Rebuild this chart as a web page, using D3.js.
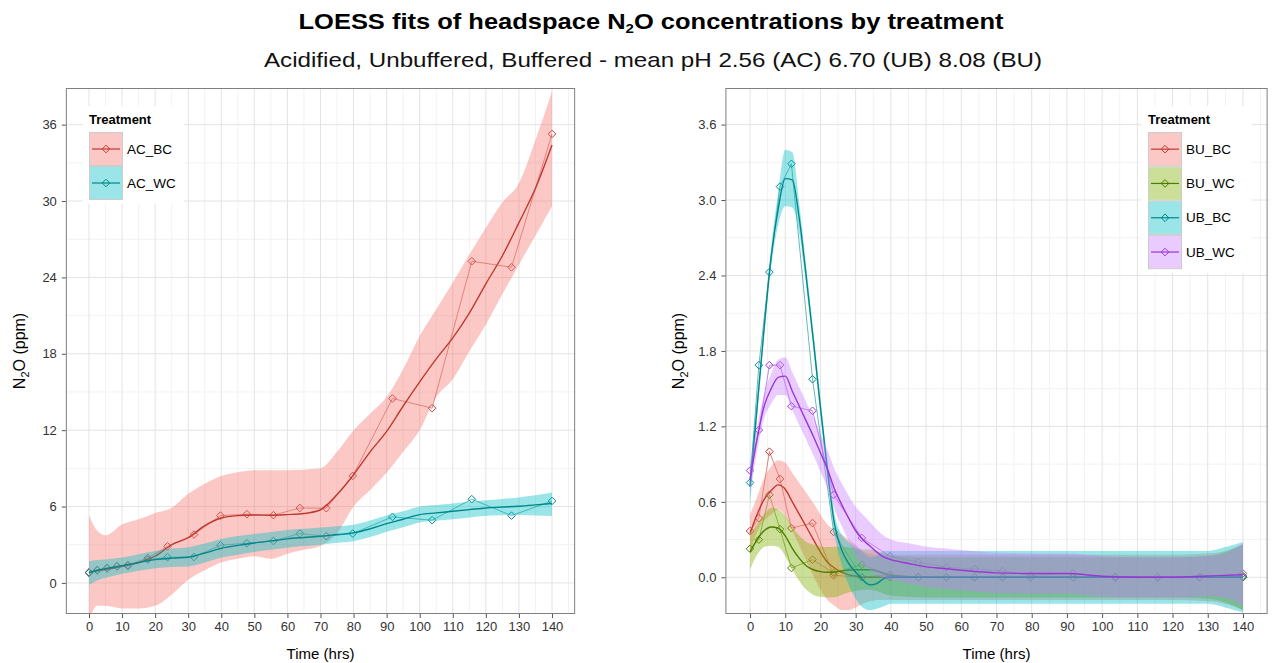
<!DOCTYPE html>
<html><head><meta charset="utf-8">
<script src="https://cdn.jsdelivr.net/npm/d3@7"></script>
<style>body{margin:0;background:#fff}svg{display:block;font-family:"Liberation Sans",Arial,sans-serif}</style>
</head><body><svg id="c" width="1272" height="663"></svg>
<script>
// ---------- data ----------
const sampleTimes = [0, 2.5, 5.5, 8.5, 11.75, 17.75, 23.75, 31.75, 39.75, 47.75, 55.75, 63.75, 71.75, 79.75, 91.75, 103.75, 115.75, 127.75, 140];

// Left panel (acidified)
const leftNames = ["AC_BC", "AC_WC"];
const AC_BC_obs = [0.84, 1.0, 1.15, 1.3, 1.4, 1.95, 2.88, 3.8, 5.29, 5.4, 5.32, 5.89, 5.87, 8.41, 14.49, 13.73, 25.27, 24.8, 35.27];
const AC_WC_obs = [0.79, 1.0, 1.18, 1.31, 1.34, 1.83, 2.02, 2.04, 2.96, 3.12, 3.3, 3.88, 3.67, 3.88, 5.19, 4.93, 6.58, 5.29, 6.44];
const leftFitTimes = [0, 2.5, 5, 10, 15, 20, 25, 30, 35, 40, 45, 50, 55, 60, 65, 70, 75, 80, 85, 90, 95, 100, 105, 110, 115, 120, 125, 130, 135, 140];
const AC_BC_fit = [0.84, 0.95, 1.05, 1.31, 1.6, 2.1, 3.0, 3.55, 4.5, 5.1, 5.29, 5.34, 5.32, 5.37, 5.45, 5.75, 6.94, 8.5, 10.3, 11.9, 13.9, 15.8, 17.6, 19.25, 21.2, 23.5, 25.7, 28.3, 31.0, 34.4];
const AC_BC_hi  = [5.3, 4.1, 3.75, 4.6, 5.0, 5.5, 5.9, 7.0, 7.8, 8.4, 8.7, 8.86, 8.86, 8.86, 8.9, 9.0, 10.3, 12.0, 13.3, 14.6, 16.8, 19.4, 21.5, 23.6, 25.8, 27.9, 29.9, 31.4, 34.8, 38.6];
const AC_BC_lo  = [-3.0, -1.8, -1.8, -2.0, -2.0, -1.8, -0.9, 0.26, 1.0, 1.6, 1.9, 2.1, 1.9, 2.3, 2.6, 2.9, 3.9, 6.0, 7.3, 8.65, 10.3, 12.0, 14.6, 16.0, 18.2, 20.3, 22.7, 25.0, 27.3, 29.6];
const AC_WC_fit = [0.79, 1.0, 1.12, 1.36, 1.6, 1.83, 1.95, 2.02, 2.35, 2.72, 2.95, 3.14, 3.3, 3.46, 3.57, 3.67, 3.8, 3.93, 4.25, 4.66, 5.0, 5.37, 5.5, 5.63, 5.76, 5.89, 5.96, 6.03, 6.13, 6.24];
const AC_WC_hi  = [1.7, 1.8, 1.85, 2.0, 2.25, 2.5, 2.7, 2.8, 3.1, 3.45, 3.68, 3.85, 4.0, 4.15, 4.25, 4.35, 4.45, 4.58, 4.9, 5.3, 5.63, 6.0, 6.12, 6.25, 6.38, 6.5, 6.6, 6.72, 6.88, 7.1];
const AC_WC_lo  = [-0.15, 0.2, 0.4, 0.72, 0.95, 1.16, 1.25, 1.3, 1.6, 2.0, 2.22, 2.43, 2.6, 2.77, 2.9, 3.0, 3.15, 3.28, 3.6, 4.02, 4.37, 4.75, 4.88, 5.0, 5.14, 5.28, 5.32, 5.34, 5.3, 5.25];

// Right panel (unbuffered / buffered)
const rightNames = ["BU_BC", "BU_WC", "UB_BC", "UB_WC"];
const BU_BC_obs = [0.368, 0.47, 0.999, 0.782, 0.391, 0.431, 0.016, 0.0, 0.02, 0.0, 0.0, 0.0, 0.0, 0.0, 0.0, 0.0, 0.0, 0.0, 0.0];
const BU_WC_obs = [0.227, 0.299, 0.656, 0.383, 0.074, 0.14, 0.035, 0.1, 0.02, 0.0, 0.0, 0.0, 0.0, 0.0, 0.0, 0.0, 0.0, 0.0, 0.01];
const UB_BC_obs = [0.753, 1.687, 2.427, 3.107, 3.288, 1.575, 0.36, 0.0, 0.0, 0.0, 0.0, 0.0, 0.0, 0.0, 0.0, 0.0, 0.0, 0.0, 0.0];
const UB_WC_obs = [0.849, 1.171, 1.687, 1.687, 1.361, 1.324, 0.656, 0.313, 0.167, 0.12, 0.08, 0.066, 0.05, 0.016, 0.03, 0.0, 0.0, 0.0, 0.03];
const rightFitTimes = [0, 2, 4, 6, 8, 10, 12, 14, 16, 18, 20, 22, 24, 26, 28, 30, 32, 34, 36, 38, 40, 45, 50, 55, 60, 70, 80, 90, 100, 110, 120, 130, 135, 140];
const BU_BC_fit = [0.35, 0.5, 0.62, 0.69, 0.735, 0.7, 0.6, 0.5, 0.4, 0.3, 0.2, 0.12, 0.074, 0.04, 0.02, 0.01, 0.0, 0.0, 0.0, 0.0, 0.0, 0.0, 0.0, 0.0, 0.0, 0.0, 0.0, 0.0, 0.0, 0.0, 0.0, 0.0, 0.0, 0.0];
const BU_BC_hi  = [0.5, 0.64, 0.79, 0.88, 0.93, 0.91, 0.83, 0.75, 0.67, 0.59, 0.5, 0.42, 0.374, 0.34, 0.3, 0.26, 0.21, 0.19, 0.18, 0.18, 0.18, 0.18, 0.18, 0.18, 0.18, 0.18, 0.18, 0.18, 0.18, 0.18, 0.18, 0.19, 0.21, 0.26];
const BU_BC_lo  = [0.2, 0.36, 0.45, 0.5, 0.54, 0.49, 0.37, 0.25, 0.13, 0.01, -0.1, -0.18, -0.226, -0.26, -0.26, -0.24, -0.21, -0.19, -0.18, -0.18, -0.18, -0.18, -0.18, -0.18, -0.18, -0.18, -0.18, -0.18, -0.18, -0.18, -0.18, -0.19, -0.21, -0.26];
const BU_WC_fit = [0.2, 0.3, 0.37, 0.4, 0.39, 0.33, 0.23, 0.15, 0.09, 0.06, 0.045, 0.04, 0.042, 0.05, 0.058, 0.06, 0.06, 0.06, 0.05, 0.03, 0.015, 0.005, 0.0, 0.0, 0.0, 0.0, 0.0, 0.0, 0.0, 0.0, 0.0, 0.0, 0.0, 0.0];
const BU_WC_hi  = [0.34, 0.42, 0.5, 0.55, 0.54, 0.49, 0.4, 0.33, 0.28, 0.26, 0.245, 0.24, 0.242, 0.24, 0.238, 0.23, 0.22, 0.22, 0.21, 0.19, 0.175, 0.165, 0.16, 0.16, 0.16, 0.16, 0.16, 0.16, 0.16, 0.16, 0.16, 0.17, 0.2, 0.26];
const BU_WC_lo  = [0.06, 0.18, 0.24, 0.25, 0.24, 0.17, 0.06, -0.03, -0.1, -0.14, -0.155, -0.16, -0.158, -0.14, -0.122, -0.11, -0.1, -0.1, -0.11, -0.13, -0.145, -0.155, -0.16, -0.16, -0.16, -0.16, -0.16, -0.16, -0.16, -0.16, -0.16, -0.17, -0.2, -0.26];
const UB_BC_fit = [0.72, 1.35, 1.98, 2.55, 2.93, 3.17, 3.16, 2.85, 2.38, 1.88, 1.35, 0.85, 0.42, 0.22, 0.11, 0.04, -0.02, -0.06, -0.05, -0.01, 0.0, 0.0, 0.0, 0.0, 0.0, 0.0, 0.0, 0.0, 0.0, 0.0, 0.0, 0.0, 0.0, 0.0];
const UB_BC_hi  = [0.87, 1.43, 2.05, 2.63, 3.06, 3.4, 3.38, 2.97, 2.46, 1.95, 1.42, 0.92, 0.5, 0.34, 0.28, 0.24, 0.2, 0.16, 0.17, 0.21, 0.21, 0.21, 0.21, 0.21, 0.21, 0.21, 0.21, 0.21, 0.21, 0.21, 0.21, 0.21, 0.24, 0.28];
const UB_BC_lo  = [0.57, 1.27, 1.91, 2.47, 2.8, 2.95, 2.94, 2.73, 2.3, 1.81, 1.28, 0.78, 0.34, 0.1, -0.06, -0.17, -0.24, -0.26, -0.25, -0.23, -0.21, -0.21, -0.21, -0.21, -0.21, -0.21, -0.21, -0.21, -0.21, -0.21, -0.21, -0.21, -0.24, -0.28];
const UB_WC_fit = [0.78, 1.1, 1.36, 1.5, 1.59, 1.6, 1.48, 1.36, 1.24, 1.12, 0.99, 0.86, 0.7, 0.58, 0.47, 0.37, 0.3, 0.25, 0.2, 0.16, 0.14, 0.11, 0.083, 0.07, 0.056, 0.035, 0.03, 0.03, 0.008, 0.0, 0.0, 0.01, 0.015, 0.02];
const UB_WC_hi  = [0.9, 1.2, 1.46, 1.62, 1.73, 1.75, 1.63, 1.51, 1.39, 1.27, 1.14, 1.01, 0.86, 0.75, 0.65, 0.56, 0.5, 0.44, 0.38, 0.33, 0.3, 0.27, 0.243, 0.23, 0.216, 0.195, 0.19, 0.19, 0.168, 0.16, 0.16, 0.17, 0.19, 0.27];
const UB_WC_lo  = [0.66, 1.0, 1.26, 1.38, 1.45, 1.45, 1.33, 1.21, 1.09, 0.97, 0.84, 0.71, 0.54, 0.41, 0.29, 0.18, 0.1, 0.06, 0.02, -0.01, -0.02, -0.05, -0.077, -0.09, -0.104, -0.125, -0.13, -0.13, -0.152, -0.16, -0.16, -0.15, -0.16, -0.23];

const leftYTicks = [0, 6, 12, 18, 24, 30, 36];
const rightYTicks = [0, 0.6, 1.2, 1.8, 2.4, 3.0, 3.6];
const xTicks = [0, 10, 20, 30, 40, 50, 60, 70, 80, 90, 100, 110, 120, 130, 140];

const fillColors = {AC_BC: "#F8766D", AC_WC: "#00BFC4", BU_BC: "#F8766D", BU_WC: "#7CAE00", UB_BC: "#00BFC4", UB_WC: "#C77CFF"};
const lineColors = {AC_BC: "#BE3A30", AC_WC: "#00878C", BU_BC: "#BE3A30", BU_WC: "#4E7D00", UB_BC: "#00878C", UB_WC: "#9A36D6"};

const subtitleText = "Acidified, Unbuffered, Buffered - mean pH 2.56 (AC) 6.70 (UB) 8.08 (BU)";

// ---------- drawing ----------
const svg = d3.select("#c");
const FONT = '"Liberation Sans", Arial, sans-serif';

// Title
const t = svg.append("text").attr("x", 651).attr("y", 29).attr("text-anchor", "middle")
  .attr("font-size", 22).attr("font-weight", "bold").attr("fill", "#000")
  .attr("textLength", 705).attr("lengthAdjust", "spacingAndGlyphs");
t.append("tspan").text("LOESS fits of headspace N");
t.append("tspan").attr("font-size", 13).attr("dy", 4).text("2");
t.append("tspan").attr("dy", -4).text("O concentrations by treatment");
svg.append("text").attr("x", 653).attr("y", 67).attr("text-anchor", "middle")
  .attr("font-size", 21).attr("fill", "#111")
  .attr("textLength", 778).attr("lengthAdjust", "spacingAndGlyphs").text(subtitleText);

const seriesData = {
  AC_BC: {obs: AC_BC_obs, fit: AC_BC_fit, lo: AC_BC_lo, hi: AC_BC_hi, ft: leftFitTimes},
  AC_WC: {obs: AC_WC_obs, fit: AC_WC_fit, lo: AC_WC_lo, hi: AC_WC_hi, ft: leftFitTimes},
  BU_BC: {obs: BU_BC_obs, fit: BU_BC_fit, lo: BU_BC_lo, hi: BU_BC_hi, ft: rightFitTimes},
  BU_WC: {obs: BU_WC_obs, fit: BU_WC_fit, lo: BU_WC_lo, hi: BU_WC_hi, ft: rightFitTimes},
  UB_BC: {obs: UB_BC_obs, fit: UB_BC_fit, lo: UB_BC_lo, hi: UB_BC_hi, ft: rightFitTimes},
  UB_WC: {obs: UB_WC_obs, fit: UB_WC_fit, lo: UB_WC_lo, hi: UB_WC_hi, ft: rightFitTimes}
};

function diamond(r) { return `M0,${-r}L${r},0L0,${r}L${-r},0Z`; }

function drawPanel(cfg) {
  const x = d3.scaleLinear().domain([-7, 147]).range([cfg.x0, cfg.x1]);
  const y = d3.scaleLinear().domain(cfg.yDomain).range([cfg.y1, cfg.y0]);
  const g = svg.append("g");
  const clipId = "clip" + cfg.id;
  svg.append("clipPath").attr("id", clipId).append("rect")
    .attr("x", cfg.x0).attr("y", cfg.y0).attr("width", cfg.x1 - cfg.x0).attr("height", cfg.y1 - cfg.y0);

  // grid
  const grid = g.append("g");
  const xMinor = d3.range(5, 150, 10);
  grid.selectAll(".vmin").data(xMinor).join("line")
    .attr("x1", d => x(d)).attr("x2", d => x(d)).attr("y1", cfg.y0).attr("y2", cfg.y1)
    .attr("stroke", "#F2F2F2").attr("stroke-width", 1);
  grid.selectAll(".hmin").data(cfg.yMinor).join("line")
    .attr("y1", d => y(d)).attr("y2", d => y(d)).attr("x1", cfg.x0).attr("x2", cfg.x1)
    .attr("stroke", "#F2F2F2").attr("stroke-width", 1);
  grid.selectAll(".vmaj").data(xTicks).join("line")
    .attr("x1", d => x(d)).attr("x2", d => x(d)).attr("y1", cfg.y0).attr("y2", cfg.y1)
    .attr("stroke", "#E3E3E3").attr("stroke-width", 1);
  grid.selectAll(".hmaj").data(cfg.yTicks).join("line")
    .attr("y1", d => y(d)).attr("y2", d => y(d)).attr("x1", cfg.x0).attr("x2", cfg.x1)
    .attr("stroke", "#E3E3E3").attr("stroke-width", 1);

  const plot = g.append("g").attr("clip-path", `url(#${clipId})`);

  // raw lines and points (under smooths)
  cfg.names.forEach(n => {
    const s = seriesData[n];
    const pts = sampleTimes.map((tt, i) => [tt, s.obs[i]]);
    plot.append("path").datum(pts)
      .attr("d", d3.line().x(d => x(d[0])).y(d => y(d[1])))
      .attr("fill", "none").attr("stroke", lineColors[n]).attr("stroke-width", 0.7).attr("stroke-opacity", 0.85);
    plot.selectAll(null).data(pts).join("path")
      .attr("transform", d => `translate(${x(d[0])},${y(d[1])})`)
      .attr("d", diamond(3.8)).attr("fill", "none").attr("stroke", lineColors[n]).attr("stroke-width", 1);
  });

  // smooth: ribbon then line, group by group
  cfg.names.forEach(n => {
    const s = seriesData[n];
    const rows = s.ft.map((tt, i) => ({t: tt, f: s.fit[i], lo: s.lo[i], hi: s.hi[i]}));
    plot.append("path").datum(rows)
      .attr("d", d3.area().curve(d3.curveMonotoneX).x(d => x(d.t)).y0(d => y(d.lo)).y1(d => y(d.hi)))
      .attr("fill", fillColors[n]).attr("fill-opacity", 0.4);
    plot.append("path").datum(rows)
      .attr("d", d3.line().curve(d3.curveMonotoneX).x(d => x(d.t)).y(d => y(d.f)))
      .attr("fill", "none").attr("stroke", lineColors[n]).attr("stroke-width", 1.4);
  });

  // border
  g.append("rect").attr("x", cfg.x0 + 0.5).attr("y", cfg.y0 + 0.5)
    .attr("width", cfg.x1 - cfg.x0 - 1).attr("height", cfg.y1 - cfg.y0 - 1)
    .attr("fill", "none").attr("stroke", "#7F7F7F").attr("stroke-width", 1);

  // axes
  const xa = g.append("g").attr("transform", `translate(0,${cfg.y1})`)
    .call(d3.axisBottom(x).tickValues(xTicks).tickSize(4).tickPadding(4).tickFormat(d3.format("d")));
  xa.select(".domain").remove();
  xa.selectAll("line").attr("stroke", "#555");
  xa.selectAll("text").attr("font-size", 13).attr("font-family", FONT).attr("fill", "#333");
  const ya = g.append("g").attr("transform", `translate(${cfg.x0},0)`)
    .call(d3.axisLeft(y).tickValues(cfg.yTicks).tickSize(4).tickPadding(5).tickFormat(cfg.yFmt));
  ya.select(".domain").remove();
  ya.selectAll("line").attr("stroke", "#555");
  ya.selectAll("text").attr("font-size", 13).attr("font-family", FONT).attr("fill", "#333");

  // axis titles
  g.append("text").attr("x", (x(0) + x(140)) / 2).attr("y", 659).attr("text-anchor", "middle")
    .attr("font-size", 15).attr("fill", "#000").text("Time (hrs)");
  const yt = g.append("text").attr("transform", `translate(${cfg.yTitleX},${(cfg.y0 + cfg.y1) / 2}) rotate(-90)`)
    .attr("text-anchor", "middle").attr("font-size", 16).attr("fill", "#000");
  yt.append("tspan").text("N");
  yt.append("tspan").attr("font-size", 11).attr("dy", 4).text("2");
  yt.append("tspan").attr("dy", -4).text("O (ppm)");

  // legend
  const L = cfg.legend;
  const lg = g.append("g");
  lg.append("rect").attr("x", L.bx).attr("y", L.by).attr("width", L.bw).attr("height", L.bh).attr("fill", "#fff");
  lg.append("text").attr("x", L.kx).attr("y", L.ty).attr("font-size", 13).attr("font-weight", "bold")
    .attr("fill", "#000").text("Treatment");
  cfg.names.forEach((n, i) => {
    const ky = L.ky + i * L.kh;
    lg.append("rect").attr("x", L.kx + 0.5).attr("y", ky + 0.5).attr("width", L.kw - 1).attr("height", L.kh - 1)
      .attr("fill", "#fff").attr("stroke", "#CCCCCC");
    lg.append("rect").attr("x", L.kx + 1).attr("y", ky + 1).attr("width", L.kw - 2).attr("height", L.kh - 2)
      .attr("fill", fillColors[n]).attr("fill-opacity", 0.4);
    lg.append("line").attr("x1", L.kx + 3).attr("x2", L.kx + L.kw - 3).attr("y1", ky + L.kh / 2).attr("y2", ky + L.kh / 2)
      .attr("stroke", lineColors[n]).attr("stroke-width", 1.2);
    lg.append("path").attr("transform", `translate(${L.kx + L.kw / 2},${ky + L.kh / 2})`)
      .attr("d", diamond(3.8)).attr("fill", "none").attr("stroke", lineColors[n]).attr("stroke-width", 1);
    lg.append("text").attr("x", L.kx + L.kw + 4).attr("y", ky + L.kh / 2 + 4.5).attr("font-size", 13.5)
      .attr("fill", "#000").text(n);
  });
}

drawPanel({
  id: "L", x0: 65.85, x1: 575.15, y0: 88, y1: 614, yDomain: [-2.44, 38.88],
  yTicks: leftYTicks, yMinor: [3, 9, 15, 21, 27, 33], yFmt: d3.format("d"),
  names: leftNames, yTitleX: 25,
  legend: {bx: 83, by: 106, bw: 101, bh: 98, kx: 89, ky: 132, kw: 34, kh: 34, ty: 124}
});
drawPanel({
  id: "R", x0: 725.4, x1: 1267.6, y0: 88, y1: 614, yDomain: [-0.292, 3.891],
  yTicks: rightYTicks, yMinor: [0.3, 0.9, 1.5, 2.1, 2.7, 3.3], yFmt: d3.format(".1f"),
  names: rightNames, yTitleX: 684,
  legend: {bx: 1141, by: 106, bw: 111, bh: 167, kx: 1148, ky: 132, kw: 34, kh: 34.3, ty: 124}
});
</script></body></html>
